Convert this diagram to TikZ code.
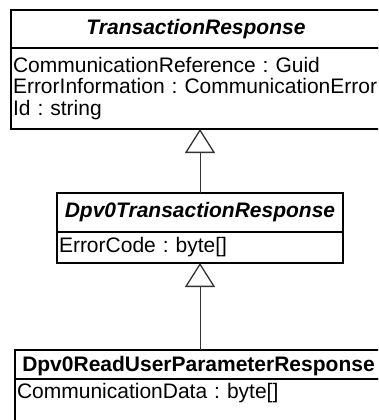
\documentclass[tikz,border=0pt]{standalone}
\usepackage{fontspec}
\setmainfont{Liberation Sans}
\usetikzlibrary{arrows.meta, positioning}
\newcommand{\umlattrfont}{\fontsize{21}{21.5}\selectfont\frenchspacing\hyphenpenalty=10000\relax}

\begin{document}
\begin{tikzpicture}[
    x=1pt, y=1pt,
    head/.style={draw, line width=1.5pt, outer sep=0pt, anchor=north west, inner sep=0pt, font=\fontsize{21}{21.5}\selectfont\bfseries},
    attr/.style={draw, line width=1.5pt, outer sep=0pt, align=left, inner xsep=2pt, inner ysep=0pt, font=\umlattrfont},
    inherit/.style={-{Triangle[open, length=24pt, width=30pt, line width=1.3pt]}, line width=1pt, draw=black!80},
    node distance=0pt
]
    \useasboundingbox (0,0) rectangle (378,-420);
    \clip (0,0) rectangle (378,-420);

    % TransactionResponse
    \node[head, minimum width=370pt, minimum height=38pt] (trhead) at (11,-10) {\itshape TransactionResponse};
    \node[attr, text width=366pt, minimum height=81pt, below=0pt of trhead] (trattr) {CommunicationReference : Guid\\ErrorInformation : CommunicationError\\Id : string};

    % Dpv0TransactionResponse
    \node[head, minimum width=286pt, minimum height=39pt] (dtrhead) at (57,-193) {\itshape Dpv0TransactionResponse};
    \node[attr, text width=282pt, minimum height=31pt, below=0pt of dtrhead] (dtrattr) {ErrorCode : byte[]};

    % Dpv0ReadUserParameterResponse
    \node[head, minimum width=367pt, minimum height=29pt, text height=19pt, text depth=4.4pt] (ruphead) at (15,-350) {Dpv0ReadUserParameterResponse};
    \node[attr, text width=363pt, inner ysep=3.5pt, text height=15.5pt, text depth=30pt, below=0pt of ruphead] (rupattr) {CommunicationData : byte[]};

    % Generalisation
    \draw[inherit] (dtrhead.north) -- (dtrhead.north |- trattr.south);
    \draw[inherit] (ruphead.north -| dtrattr.south) -- (dtrattr.south);
\end{tikzpicture}
\end{document}
